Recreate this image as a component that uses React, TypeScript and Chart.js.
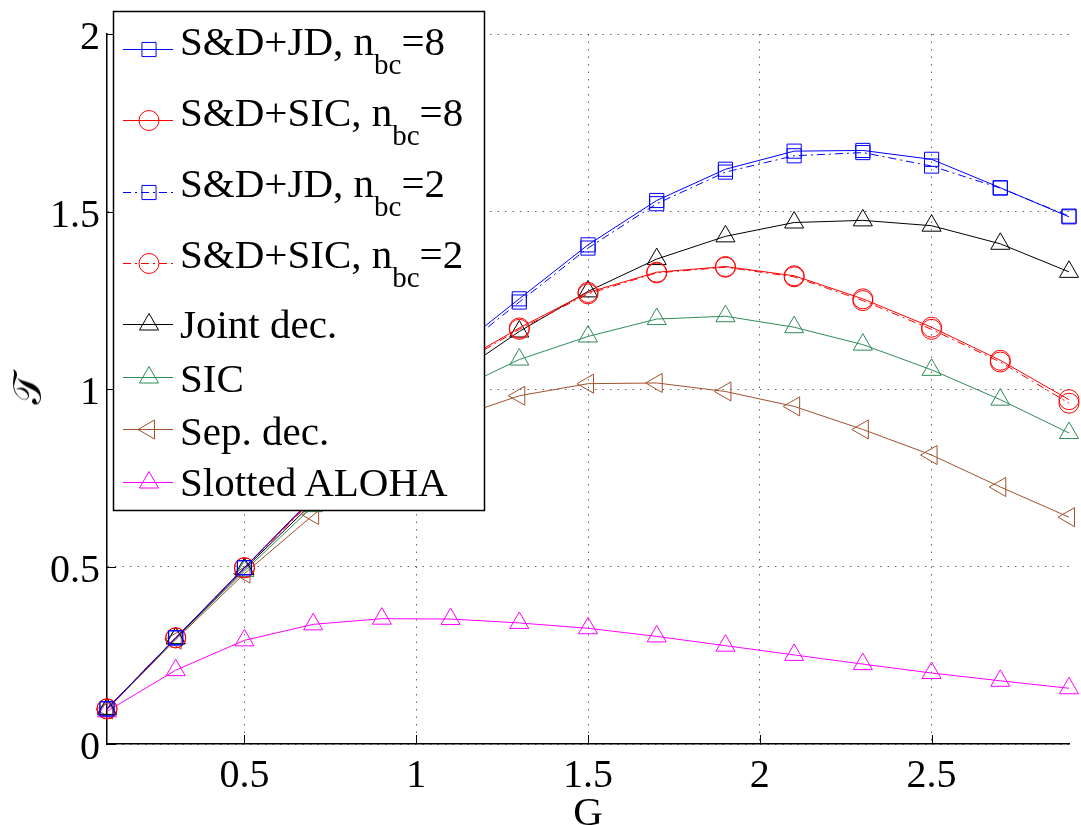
import React, { useEffect, useRef, useState } from "react";
import { Chart, registerables } from "chart.js";

Chart.register(...registerables);

// ---------------- data ----------------
const G = [0.1, 0.3, 0.5, 0.7, 0.9, 1.1, 1.3, 1.5, 1.7, 1.9, 2.1, 2.3, 2.5, 2.7, 2.9];

const sdJd8 = [0.099, 0.299, 0.497, 0.695, 0.9, 1.1, 1.254, 1.406, 1.531, 1.619, 1.67, 1.672, 1.647, 1.567, 1.485];
const sdSic8 = [0.099, 0.299, 0.497, 0.69, 0.88, 1.06, 1.172, 1.272, 1.329, 1.345, 1.319, 1.254, 1.174, 1.081, 0.97];
const sdJd2 = [0.099, 0.299, 0.496, 0.692, 0.89, 1.09, 1.245, 1.397, 1.522, 1.611, 1.657, 1.666, 1.628, 1.566, 1.487];
const sdSic2 = [0.099, 0.299, 0.496, 0.688, 0.875, 1.055, 1.168, 1.268, 1.327, 1.343, 1.316, 1.249, 1.168, 1.076, 0.96];
const jointDec = [0.099, 0.298, 0.493, 0.68, 0.86, 1.03, 1.162, 1.275, 1.366, 1.43, 1.469, 1.475, 1.46, 1.409, 1.33];
const sicDec = [0.098, 0.297, 0.487, 0.67, 0.84, 0.99, 1.083, 1.148, 1.197, 1.205, 1.174, 1.125, 1.054, 0.97, 0.876];
const sepDec = [0.097, 0.294, 0.48, 0.645, 0.79, 0.915, 0.981, 1.015, 1.017, 0.993, 0.951, 0.886, 0.814, 0.724, 0.639];
const aloha = [0.092, 0.208, 0.292, 0.337, 0.353, 0.352, 0.341, 0.326, 0.303, 0.277, 0.251, 0.225, 0.2, 0.178, 0.157];

const xTicks = [0.5, 1, 1.5, 2, 2.5];
const yTicks = [0, 0.5, 1, 1.5, 2];
const xTickLabels = ["0.5", "1", "1.5", "2", "2.5"];
const yTickLabels = ["0", "0.5", "1", "1.5", "2"];

// legend labels: main text, subscript, tail
const labelMain = ["S&D+JD, n", "S&D+SIC, n", "S&D+JD, n", "S&D+SIC, n", "Joint dec.", "SIC", "Sep. dec.", "Slotted ALOHA"];
const labelSub = ["bc", "bc", "bc", "bc", "", "", "", ""];
const labelTail = ["=8", "=8", "=2", "=2", "", "", "", ""];

const xTitle = "G";
const yTitle = "𝒯";

// ---------------- styles ----------------
const FONT = "'Liberation Serif'";
const DASHDOT = [8, 4, 2, 4];

type SeriesStyle = { data: number[]; color: string; dash: number[]; marker: string; rot: number; r: number };

const seriesList: SeriesStyle[] = [
  { data: sdJd8, color: "#0000ff", dash: [], marker: "rect", rot: 0, r: 10 },
  { data: sdSic8, color: "#ff0000", dash: [], marker: "circle", rot: 0, r: 10 },
  { data: sdJd2, color: "#0000ff", dash: DASHDOT, marker: "rect", rot: 0, r: 10 },
  { data: sdSic2, color: "#ff0000", dash: DASHDOT, marker: "circle", rot: 0, r: 10 },
  { data: jointDec, color: "#000000", dash: [], marker: "triangle", rot: 0, r: 11 },
  { data: sicDec, color: "#2e8b57", dash: [], marker: "triangle", rot: 0, r: 11 },
  { data: sepDec, color: "#a0522d", dash: [], marker: "triangle", rot: -90, r: 11 },
  { data: aloha, color: "#ff00ff", dash: [], marker: "triangle", rot: 0, r: 11 },
];

// legend layout (pixels)
const LEG = { x: 113, y: 11, w: 371, h: 499, lineX1: 123, lineX2: 173, markX: 149, textX: 180 };
const legLineY = [49, 120, 192, 263, 324, 377, 429, 482];
const legBase = [55, 126, 197, 268, 338, 392, 445, 496];
const legSubDrop = 19;
const LEG_FS = 41;
const SUB_FS = 29;
const TICK_FS = 40;
const ASC = 0.8375; // baseline offset within a line-height:1 box for Liberation Serif

function drawMarker(ctx: CanvasRenderingContext2D, s: SeriesStyle, x: number, y: number) {
  ctx.save();
  ctx.strokeStyle = s.color;
  ctx.lineWidth = 1;
  ctx.setLineDash([]);
  ctx.beginPath();
  if (s.marker === "rect") {
    const h = s.r * Math.SQRT1_2;
    ctx.rect(x - h, y - h, 2 * h, 2 * h);
  } else if (s.marker === "circle") {
    ctx.arc(x, y, s.r, 0, Math.PI * 2);
  } else {
    ctx.translate(x, y);
    ctx.rotate((s.rot * Math.PI) / 180);
    const r = s.r;
    ctx.moveTo(0, -r);
    ctx.lineTo(r * Math.sin(Math.PI / 3), r / 2);
    ctx.lineTo(-r * Math.sin(Math.PI / 3), r / 2);
    ctx.closePath();
  }
  ctx.stroke();
  ctx.restore();
}

const overlayPlugin = {
  id: "overlay",
  afterDraw(chart: any) {
    const ctx: CanvasRenderingContext2D = chart.ctx;
    const { left, bottom } = chart.chartArea;
    const xs = chart.scales.x;
    const ys = chart.scales.y;
    ctx.save();
    // inward ticks
    ctx.strokeStyle = "#000";
    ctx.lineWidth = 1;
    ctx.setLineDash([]);
    ctx.beginPath();
    xTicks.forEach((v) => {
      const px = Math.round(xs.getPixelForValue(v)) + 0.5;
      ctx.moveTo(px, bottom);
      ctx.lineTo(px, bottom - 9);
    });
    yTicks.forEach((v) => {
      const py = Math.round(ys.getPixelForValue(v)) + 0.5;
      ctx.moveTo(left, py);
      ctx.lineTo(left + 9, py);
    });
    ctx.stroke();

    // legend box + samples (text is drawn as DOM on top)
    ctx.fillStyle = "#fff";
    ctx.fillRect(LEG.x, LEG.y, LEG.w, LEG.h);
    ctx.strokeStyle = "#000";
    ctx.lineWidth = 1.5;
    ctx.strokeRect(LEG.x + 0.5, LEG.y + 0.5, LEG.w, LEG.h);
    seriesList.forEach((s, i) => {
      const ly = legLineY[i] + 0.5;
      ctx.strokeStyle = s.color;
      ctx.lineWidth = 1;
      ctx.setLineDash(s.dash);
      ctx.beginPath();
      ctx.moveTo(LEG.lineX1, ly);
      ctx.lineTo(LEG.lineX2, ly);
      ctx.stroke();
      ctx.setLineDash([]);
      drawMarker(ctx, s, LEG.markX, ly);
    });
    ctx.restore();
  },
};

type Layout = { xt: number[]; yt: number[]; left: number; right: number; top: number; bottom: number };

function Txt(props: { x: number; base: number; size: number; align?: "left" | "center" | "right"; children: React.ReactNode }) {
  const { x, base, size, align = "left" } = props;
  const tx = align === "center" ? "translateX(-50%)" : align === "right" ? "translateX(-100%)" : "none";
  return (
    <div
      style={{
        position: "absolute",
        left: x,
        top: base - ASC * size,
        fontSize: size,
        lineHeight: `${size}px`,
        fontFamily: FONT,
        whiteSpace: "nowrap",
        color: "#000",
        transform: tx,
      }}
    >
      {props.children}
    </div>
  );
}

export default function App() {
  const canvasRef = useRef<HTMLCanvasElement | null>(null);
  const [layout, setLayout] = useState<Layout | null>(null);

  useEffect(() => {
    const canvas = canvasRef.current;
    if (!canvas) return;
    const datasets = seriesList.map((s, i) => ({
      label: labelMain[i] + labelSub[i] + labelTail[i],
      data: G.map((x, j) => ({ x, y: s.data[j] })),
      borderColor: s.color,
      backgroundColor: "rgba(0,0,0,0)",
      borderWidth: 1,
      borderDash: s.dash,
      pointStyle: s.marker,
      pointRotation: s.rot,
      pointRadius: s.r,
      pointHoverRadius: s.r,
      pointBorderColor: s.color,
      pointBackgroundColor: "rgba(0,0,0,0)",
      pointBorderWidth: 1,
      tension: 0,
      fill: false,
      clip: false as any,
    }));

    const chart = new Chart(canvas, {
      type: "line",
      data: { datasets: datasets as any },
      options: {
        animation: false,
        responsive: false,
        maintainAspectRatio: false,
        layout: { padding: { top: 34, right: 6, left: 0, bottom: 0 } },
        plugins: { legend: { display: false }, tooltip: { enabled: false } },
        scales: {
          x: {
            type: "linear",
            min: 0.1,
            max: 2.9,
            afterBuildTicks: (s: any) => {
              s.ticks = xTicks.map((v) => ({ value: v }));
            },
            afterFit: (s: any) => {
              s.height = 81;
            },
            grid: { color: "rgba(0,0,0,0.6)", lineWidth: 1, drawTicks: false },
            border: { display: true, color: "#000", width: 1.5, dash: [1.5, 6] },
            ticks: { display: false },
          },
          y: {
            type: "linear",
            min: 0,
            max: 2,
            afterBuildTicks: (s: any) => {
              s.ticks = yTicks.map((v) => ({ value: v }));
            },
            afterFit: (s: any) => {
              s.width = 107;
            },
            grid: { color: "rgba(0,0,0,0.6)", lineWidth: 1, drawTicks: false },
            border: { display: true, color: "#000", width: 1.5, dash: [1.5, 6] },
            ticks: { display: false },
          },
        },
      },
      plugins: [overlayPlugin],
    });
    const ca = chart.chartArea;
    setLayout({
      xt: xTicks.map((v) => chart.scales.x.getPixelForValue(v)),
      yt: yTicks.map((v) => chart.scales.y.getPixelForValue(v)),
      left: ca.left,
      right: ca.right,
      top: ca.top,
      bottom: ca.bottom,
    });
    return () => {
      chart.destroy();
    };
  }, []);

  return (
    <div style={{ position: "absolute", left: 0, top: 0, width: 1081, height: 825, background: "#fff", overflow: "hidden", fontFamily: FONT }}>
      <canvas ref={canvasRef} width={1081} height={825} style={{ position: "absolute", left: 0, top: 0, display: "block", width: 1081, height: 825 }} />
      {layout && (
        <>
          {layout.xt.map((px, i) => (
            <Txt key={"xt" + i} x={px} base={layout.bottom + 43} size={TICK_FS} align="center">
              {xTickLabels[i]}
            </Txt>
          ))}
          {layout.yt.map((py, i) => (
            <Txt key={"yt" + i} x={layout.left - 7} base={py + 15.5} size={TICK_FS} align="right">
              {yTickLabels[i]}
            </Txt>
          ))}
          <Txt x={(layout.left + layout.right) / 2} base={825} size={41} align="center">
            {xTitle}
          </Txt>
          <div
            style={{
              position: "absolute",
              left: 28,
              top: (layout.top + layout.bottom) / 2,
              transform: "translate(-50%, -50%) rotate(-90deg)",
              fontSize: 40,
              lineHeight: "40px",
              fontFamily: FONT,
              whiteSpace: "nowrap",
              color: "#000",
            }}
          >
            {yTitle}
          </div>
          {labelMain.map((m, i) => (
            <Txt key={"lg" + i} x={LEG.textX} base={legBase[i]} size={LEG_FS}>
              {m}
              {labelSub[i] && (
                <span style={{ fontSize: SUB_FS, position: "relative", top: legSubDrop }}>{labelSub[i]}</span>
              )}
              {labelTail[i]}
            </Txt>
          ))}
        </>
      )}
    </div>
  );
}
